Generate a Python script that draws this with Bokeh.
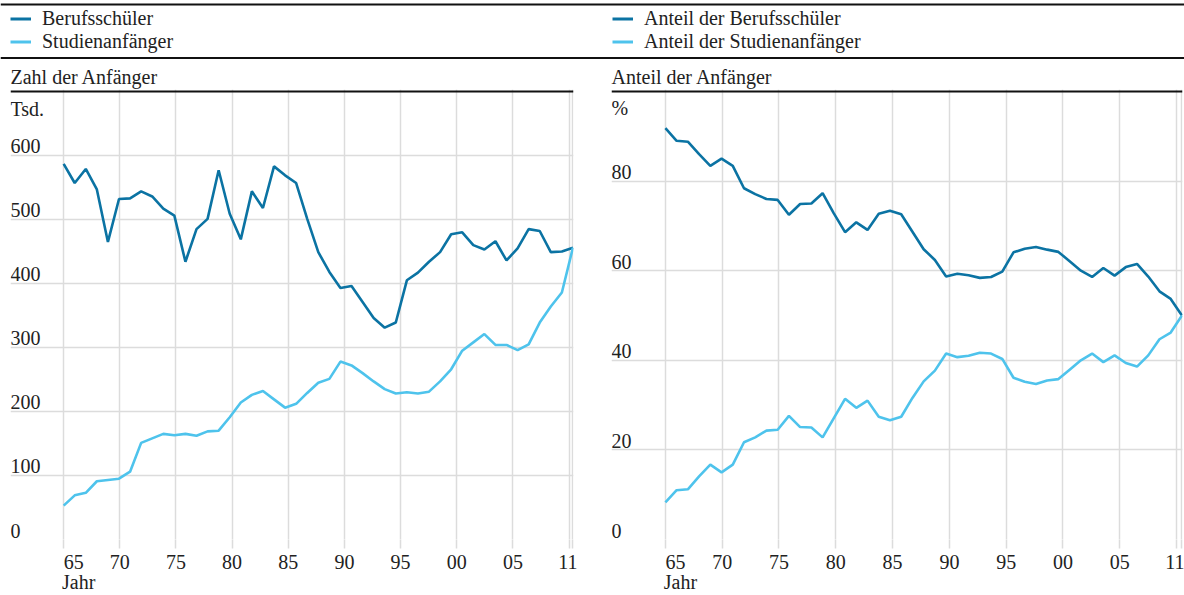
from bokeh.plotting import figure
from bokeh.models import Range1d, FixedTicker, Span, Label, Legend, ColumnDataSource, LinearAxis
from bokeh.layouts import column, row
from bokeh.embed import file_html
from bokeh.resources import INLINE
from bokeh.core.properties import value

# ---------------- data ----------------
years = list(range(1965, 2012))

# Zahl der Anfänger (Tsd.)
berufsschueler_tsd = [587, 557, 579, 547, 465, 532, 533, 544, 536, 517,
                      506, 434, 485, 501, 577, 509, 469, 544, 518, 583,
                      569, 557, 501, 449, 418, 393, 396, 371, 346, 331,
                      339, 405, 417, 434, 449, 477, 480, 460, 453, 466,
                      436, 455, 485, 482, 449, 450, 456]
studienanfaenger_tsd = [53, 69, 73, 91, 93, 95, 106, 151, 158, 165,
                        163, 165, 162, 169, 170, 191, 214, 226, 232, 219,
                        206, 212, 229, 245, 251, 278, 272, 260, 247, 235,
                        228, 230, 228, 231, 247, 266, 295, 308, 321, 304,
                        304, 296, 305, 339, 364, 386, 456]

# Anteil der Anfänger (%)
anteil_berufsschueler = [91.8, 89.0, 88.8, 86.0, 83.4, 85.0, 83.4, 78.4, 77.1, 76.0,
                         75.8, 72.5, 74.9, 75.0, 77.3, 72.8, 68.6, 70.8, 69.1, 72.7,
                         73.4, 72.6, 68.7, 64.8, 62.4, 58.7, 59.3, 59.0, 58.4, 58.6,
                         59.8, 64.1, 64.9, 65.3, 64.7, 64.2, 62.1, 60.0, 58.6, 60.6,
                         58.9, 60.8, 61.5, 58.7, 55.4, 53.7, 50.0]
anteil_studienanfaenger = [8.3, 11.0, 11.2, 14.1, 16.7, 15.0, 16.7, 21.7, 22.8, 24.3,
                           24.5, 27.6, 25.1, 25.0, 22.8, 27.1, 31.4, 29.4, 31.0, 27.4,
                           26.6, 27.4, 31.6, 35.3, 37.7, 41.5, 40.7, 41.0, 41.7, 41.5,
                           40.3, 36.1, 35.2, 34.7, 35.5, 35.8, 37.9, 40.0, 41.5, 39.6,
                           41.1, 39.4, 38.6, 41.1, 44.7, 46.2, 50.0]

x_tick_years = [1965, 1970, 1975, 1980, 1985, 1990, 1995, 2000, 2005, 2010, 2011]
x_tick_labels = ["65", "70", "75", "80", "85", "90", "95", "00", "05", "", "11"]
x_title = "Jahr"

left_y_ticks = [0, 100, 200, 300, 400, 500, 600]
left_y_labels = ["0", "100", "200", "300", "400", "500", "600"]
right_y_ticks = [0, 20, 40, 60, 80]
right_y_labels = ["0", "20", "40", "60", "80"]

# ---------------- style ----------------
FONT = "Liberation Serif"
TXT = "#222222"
C_DARK = "#0b73a3"
C_LIGHT = "#4ec3ec"
GRID = "#dcdcdc"
RULE = "#111111"
X_START, X_END = 1960.2, 2011.05
FSP = "\u2007"  # figure space (digit-wide), used to nudge edge labels


def make_panel(width, border_left, border_right, y_top, y_ticks, y_labels,
               unit_text, unit_y, s_dark, s_light, grid_factor, last_pad):
    y_end = y_top * (1 + 2.0 / 449.0)
    p = figure(width=width, height=506,
               x_range=Range1d(X_START, X_END), y_range=Range1d(0, y_end),
               output_backend="svg", toolbar_location=None,
               y_axis_location=None,
               min_border_left=border_left, min_border_right=border_right,
               min_border_top=0, min_border_bottom=55)
    p.outline_line_color = None
    p.background_fill_color = "white"
    p.border_fill_color = "white"

    # x ticks (grid positions of the original chart are spaced slightly wider)
    ticks = []
    overrides = {}
    for t, lab in zip(x_tick_years, x_tick_labels):
        pos = float(t) if t == 2011 else round(1965 + (t - 1965) * grid_factor, 3)
        ticks.append(pos)
        if lab == "65":
            lab = FSP * 2 + lab
        elif lab == "11":
            lab = lab + last_pad
        overrides[pos] = lab
    ax = p.xaxis[0]
    ax.ticker = FixedTicker(ticks=ticks)
    ax.major_label_overrides = overrides
    ax.axis_line_color = None
    ax.major_tick_line_color = GRID
    ax.major_tick_line_width = 1.5
    ax.major_tick_in = 0
    ax.major_tick_out = 9
    ax.minor_tick_line_color = None
    ax.major_label_text_font = FONT
    ax.major_label_text_font_size = "20px"
    ax.major_label_text_color = TXT
    ax.major_label_standoff = 2

    # second row under the tick labels: the axis title "Jahr", starting at 1965
    ax2 = LinearAxis(ticker=FixedTicker(ticks=[1965.0]),
                     major_label_overrides={1965.0: FSP * 3 + x_title},
                     axis_line_color=None, major_tick_line_color=None,
                     minor_tick_line_color=None, major_tick_in=0, major_tick_out=0,
                     major_label_standoff=-5, major_label_text_font=FONT,
                     major_label_text_font_size="20px", major_label_text_color=TXT)
    p.add_layout(ax2, "below")

    p.xgrid.ticker = FixedTicker(ticks=ticks)
    p.xgrid.grid_line_color = GRID
    p.xgrid.grid_line_width = 1.5
    p.ygrid.ticker = FixedTicker(ticks=y_ticks)
    p.ygrid.grid_line_color = GRID
    p.ygrid.grid_line_width = 1.5

    # y labels sit just above their grid lines, inside the plot
    lab_src = ColumnDataSource(dict(x=[X_START] * (len(y_ticks) + 1),
                                    y=list(y_ticks) + [unit_y],
                                    t=list(y_labels) + [unit_text]))
    p.text(x="x", y="y", text="t", source=lab_src,
           text_font=value(FONT), text_font_size="20px", text_color=TXT,
           text_align="left", text_baseline="alphabetic", y_offset=-9)

    p.line(years, s_dark, line_color=C_DARK, line_width=2.6)
    p.line(years, s_light, line_color=C_LIGHT, line_width=2.6)

    p.add_layout(Span(location=y_top, dimension="width", line_color=RULE, line_width=2))
    return p


left = make_panel(592, 10, 19, 700, left_y_ticks, left_y_labels, "Tsd.", 658,
                  berufsschueler_tsd, studienanfaenger_tsd, 1.0144, FSP)
right = make_panel(592, 19, 2, 100, right_y_ticks, right_y_labels, "%", 94.2,
                   anteil_berufsschueler, anteil_studienanfaenger, 1.0116, "")

# ---------------- header (legends, subtitles, rules) ----------------
H_TOP = 89
top = figure(width=1184, height=H_TOP, x_range=Range1d(0, 1184), y_range=Range1d(H_TOP, 0),
             output_backend="svg", toolbar_location=None,
             x_axis_location=None, y_axis_location=None, min_border=0)
top.grid.visible = False
top.outline_line_color = None
top.add_layout(Span(location=4, dimension="width", line_color=RULE, line_width=2))
top.add_layout(Span(location=57.5, dimension="width", line_color=RULE, line_width=2))

# legend swatches (hidden renderers carrying the series)
rb = top.line(x=years, y=berufsschueler_tsd, line_color=C_DARK, line_width=3, visible=False)
rs = top.line(x=years, y=studienanfaenger_tsd, line_color=C_LIGHT, line_width=3, visible=False)


def make_legend(items, x):
    return Legend(items=items, location=(x, H_TOP - 52.5), orientation="vertical",
                  padding=0, margin=0, spacing=0,
                  glyph_width=21, glyph_height=23, label_height=23,
                  label_standoff=11, label_text_font=FONT,
                  label_text_font_size="20px", label_text_color=TXT,
                  border_line_color=None, background_fill_alpha=0)


top.add_layout(make_legend([("Berufsschüler", [rb]), ("Studienanfänger", [rs])], 10))
top.add_layout(make_legend([("Anteil der Berufsschüler", [rb]),
                            ("Anteil der Studienanfänger", [rs])], 612))

for x, txt in [(10, "Zahl der Anfänger"), (611, "Anteil der Anfänger")]:
    top.add_layout(Label(x=x, y=76, text=txt, text_font=FONT, text_font_size="20px",
                         text_color=TXT, text_baseline="alphabetic", text_align="left"))

layout = column(top, row(left, right, spacing=0), spacing=0)

open("out.html", "w").write(file_html(layout, INLINE))
